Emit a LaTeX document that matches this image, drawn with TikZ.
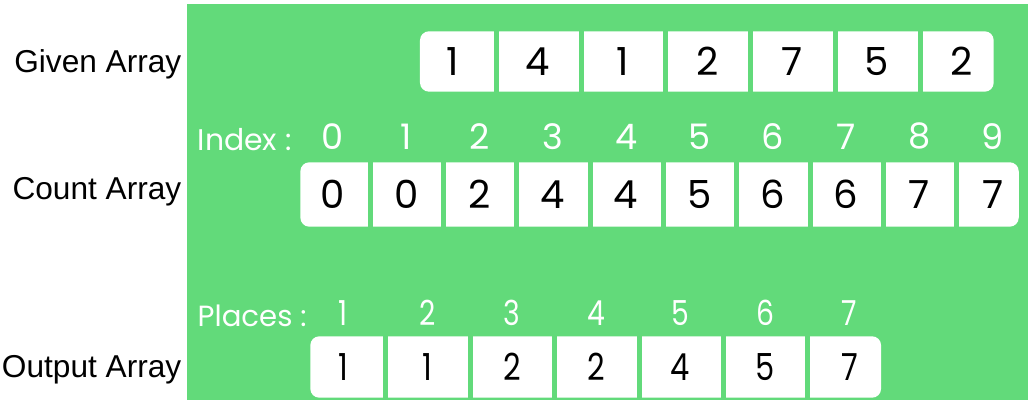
\documentclass[tikz,border=0pt]{standalone}
\usepackage{fontspec}
\usepackage{tikz}
\usetikzlibrary{positioning,backgrounds}
\setmainfont{Liberation Sans}
\newfontfamily\digitfont{Poppins}
\newfontfamily\narrowdigits[FakeStretch=0.82]{Poppins}
\newcommand\labelfont{\fontsize{9.0}{10}\selectfont}
\newcommand\cellfont{\digitfont\fontsize{11}{12}\selectfont}
\newcommand\indexfont{\digitfont\fontsize{10}{12}\selectfont}
\newcommand\headfont{\digitfont\fontsize{8.5}{10}\selectfont}
\newcommand\placefont{\narrowdigits\fontsize{9.8}{11}\selectfont}
\newcommand\outfont{\narrowdigits\fontsize{10.6}{12}\selectfont}
\definecolor{gfg}{RGB}{98,218,122}

\begin{document}
\begin{tikzpicture}[
  lbl/.style={font=\labelfont, anchor=east, inner sep=0},
  gcell/.style={minimum width=0.848cm, minimum height=0.59cm, inner sep=0, font=\cellfont},
  ccell/.style={minimum width=0.733cm, minimum height=0.63cm, inner sep=0, font=\cellfont},
  ocell/.style={minimum width=0.844cm, minimum height=0.60cm, inner sep=0, font=\outfont},
  idx/.style={text=white, inner sep=0, font=\indexfont},
  plc/.style={text=white, inner sep=0, font=\placefont},
  head/.style={text=white, inner sep=0, font=\headfont, anchor=base west},
  panel/.style={fill=white, rounded corners=0.09cm},
  sep/.style={draw=gfg, line width=0.05cm}]
\useasboundingbox (0,0) rectangle (10.35,4.07);
\node[lbl] (given) at (1.82,3.43) {Given Array};
\node[lbl] (count) at (1.82,2.15) {Count Array};
\node[lbl] (output) at (1.82,0.37) {Output Array};

\node[gcell] (g1) at (4.531,3.455) {1};
\node[gcell] (g2) at (5.379,3.455) {4};
\node[gcell] (g3) at (6.227,3.455) {1};
\node[gcell] (g4) at (7.075,3.455) {2};
\node[gcell] (g5) at (7.923,3.455) {7};
\node[gcell] (g6) at (8.771,3.455) {5};
\node[gcell] (g7) at (9.619,3.455) {2};

\node[ccell] (c0) at (3.329,2.125) {0};
\node[ccell] (c1) at (4.062,2.125) {0};
\node[ccell] (c2) at (4.795,2.125) {2};
\node[ccell] (c3) at (5.528,2.125) {4};
\node[ccell] (c4) at (6.261,2.125) {4};
\node[ccell] (c5) at (6.994,2.125) {5};
\node[ccell] (c6) at (7.727,2.125) {6};
\node[ccell] (c7) at (8.460,2.125) {6};
\node[ccell] (c8) at (9.193,2.125) {7};
\node[ccell] (c9) at (9.926,2.125) {7};

\node[head] (index) at (1.97,2.56) {Index :};
\node[idx, above=0.12cm of c0] (i0) {0};
\node[idx, above=0.12cm of c1] (i1) {1};
\node[idx, above=0.12cm of c2] (i2) {2};
\node[idx, above=0.12cm of c3] (i3) {3};
\node[idx, above=0.12cm of c4] (i4) {4};
\node[idx, above=0.12cm of c5] (i5) {5};
\node[idx, above=0.12cm of c6] (i6) {6};
\node[idx, above=0.12cm of c7] (i7) {7};
\node[idx, above=0.12cm of c8] (i8) {8};
\node[idx, above=0.12cm of c9] (i9) {9};

\node[ocell] (o1) at (3.430,0.40) {1};
\node[ocell] (o2) at (4.274,0.40) {1};
\node[ocell] (o3) at (5.118,0.40) {2};
\node[ocell] (o4) at (5.962,0.40) {2};
\node[ocell] (o5) at (6.806,0.40) {4};
\node[ocell] (o6) at (7.650,0.40) {5};
\node[ocell] (o7) at (8.494,0.40) {7};

\node[head, font=\digitfont\fontsize{8.3}{10}\selectfont] (places) at (1.97,0.80) {Places :};
\node[plc, above=0.10cm of o1] (p1) {1};
\node[plc, above=0.10cm of o2] (p2) {2};
\node[plc, above=0.10cm of o3] (p3) {3};
\node[plc, above=0.10cm of o4] (p4) {4};
\node[plc, above=0.10cm of o5] (p5) {5};
\node[plc, above=0.10cm of o6] (p6) {6};
\node[plc, above=0.10cm of o7] (p7) {7};

\begin{scope}[on background layer]
\fill[gfg] (1.87,0.07) rectangle (10.28,4.03);
\fill[panel] ([xshift=0.10cm]g1.north west) rectangle ([xshift=-0.113cm]g7.south east);
\fill[panel] ([xshift=0.048cm]c0.north west) rectangle ([xshift=-0.112cm]c9.south east);
\fill[panel] ([xshift=0.102cm]o1.north west) rectangle ([xshift=-0.112cm]o7.south east);
\draw[sep] (g1.north east) -- (g1.south east);
\draw[sep] (g2.north east) -- (g2.south east);
\draw[sep] (g3.north east) -- (g3.south east);
\draw[sep] (g4.north east) -- (g4.south east);
\draw[sep] (g5.north east) -- (g5.south east);
\draw[sep] (g6.north east) -- (g6.south east);
\draw[sep] (c0.north east) -- (c0.south east);
\draw[sep] (c1.north east) -- (c1.south east);
\draw[sep] (c2.north east) -- (c2.south east);
\draw[sep] (c3.north east) -- (c3.south east);
\draw[sep] (c4.north east) -- (c4.south east);
\draw[sep] (c5.north east) -- (c5.south east);
\draw[sep] (c6.north east) -- (c6.south east);
\draw[sep] (c7.north east) -- (c7.south east);
\draw[sep] (c8.north east) -- (c8.south east);
\draw[sep] (o1.north east) -- (o1.south east);
\draw[sep] (o2.north east) -- (o2.south east);
\draw[sep] (o3.north east) -- (o3.south east);
\draw[sep] (o4.north east) -- (o4.south east);
\draw[sep] (o5.north east) -- (o5.south east);
\draw[sep] (o6.north east) -- (o6.south east);
\end{scope}
\end{tikzpicture}
\end{document}
